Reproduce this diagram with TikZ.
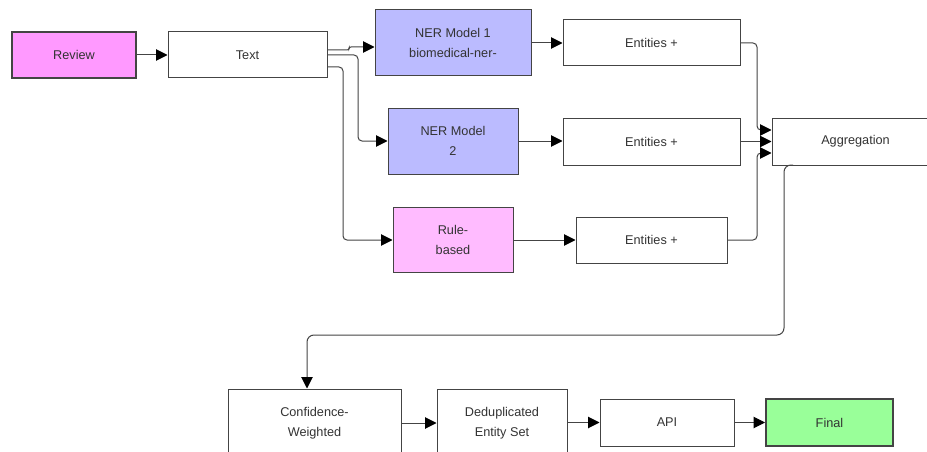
\documentclass[tikz,border=0pt]{standalone}
\usepackage{fontspec}
\setmainfont{Liberation Sans}
\usetikzlibrary{arrows.meta}
\definecolor{revfill}{HTML}{FF99FF}
\definecolor{nerfill}{HTML}{BBBBFF}
\definecolor{rulefill}{HTML}{FFBBFF}
\definecolor{finfill}{HTML}{99FF99}
\definecolor{edge}{HTML}{444444}
\definecolor{txt}{HTML}{333333}
\tikzset{
  box/.style={draw=edge, line width=1pt, fill=white, inner sep=0pt, align=center,
    text=txt, font=\fontsize{12.7}{20}\selectfont},
  boldbox/.style={box, line width=2pt},
  conn/.style={draw=edge, line width=1pt, rounded corners=4pt,
    -{Triangle[length=11.5pt,width=11.5pt,fill=black,color=black]}},
}
\begin{document}
\begin{tikzpicture}[x=1pt,y=-1pt]
\clip (0,0) rectangle (927,452);
\fill[white] (0,0) rectangle (927,452);
\node[boldbox, fill=revfill, minimum width=124pt, minimum height=46pt] (review) at (74,55) {Review};
\node[box, minimum width=159pt, minimum height=46pt] (text) at (247.5,55) {Text};
\node[box, fill=nerfill, minimum width=156pt, minimum height=66pt] (ner1) at (453,43) {NER Model 1\\biomedical-ner-};
\node[box, minimum width=177pt, minimum height=46pt] (ent1) at (651.5,43) {Entities +};
\node[box, fill=nerfill, minimum width=130pt, minimum height=66pt] (ner2) at (453,141) {NER Model\\2};
\node[box, minimum width=177pt, minimum height=47pt] (ent2) at (651.5,141.5) {Entities +};
\node[box, fill=rulefill, minimum width=120pt, minimum height=65pt] (rule) at (453,239.5) {Rule-\\based};
\node[box, minimum width=151pt, minimum height=46pt] (ent3) at (651.5,240) {Entities +};
\node[box, minimum width=167pt, minimum height=47pt] (agg) at (855.5,141.5) {Aggregation};
\node[box, minimum width=173pt, minimum height=68pt] (conf) at (314.5,423) {Confidence-\\Weighted};
\node[box, minimum width=130pt, minimum height=68pt] (dedup) at (502,423) {Deduplicated\\Entity Set};
\node[box, minimum width=134pt, minimum height=47pt] (api) at (667,422.5) {API};
\node[boldbox, fill=finfill, minimum width=127pt, minimum height=47pt] (final) at (829.5,422.5) {Final};

\draw[conn] (review.east) -- (text.west);
\draw[conn, rounded corners=2pt] (text.east |- 0,50) -- (349,50) -- (349,47) -- (ner1.west |- 0,47);
\draw[conn] (text.east |- 0,55) -- (358,55) -- (358,141) -- (ner2.west);
\draw[conn] (text.east |- 0,67) -- (343,67) -- (343,240) -- (rule.west |- 0,240);
\draw[conn] (ner1.east) -- (ent1.west);
\draw[conn] (ner2.east) -- (ent2.west |- ner2.east);
\draw[conn] (rule.east |- ent3.west) -- (ent3.west);
\draw[conn] (ent1.east) -- (757,43) -- (757,130) -- (agg.west |- 0,130);
\draw[conn] (ent2.east) -- (agg.west |- ent2.east);
\draw[conn] (ent3.east) -- (757,240) -- (757,153) -- (agg.west |- 0,153);
\draw[conn, rounded corners=7pt] (793,165) -- (784,165) -- (784,335) -- (307,335) -- (conf.north -| 307,0);
\draw[conn] (conf.east) -- (dedup.west);
\draw[conn] (dedup.east |- api.west) -- (api.west);
\draw[conn] (api.east) -- (final.west);
\end{tikzpicture}
\end{document}
